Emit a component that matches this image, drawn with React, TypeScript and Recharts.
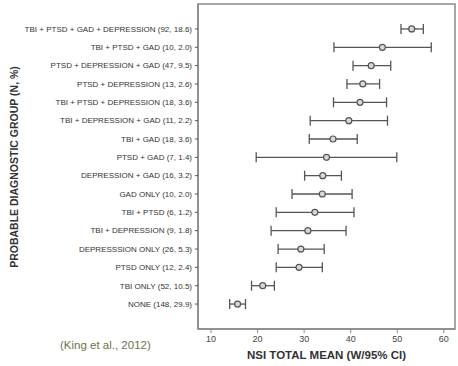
import React from "react";
import { ErrorBar, ReferenceArea, Scatter, ScatterChart, XAxis, YAxis } from "recharts";

const groups = [
  "TBI + PTSD + GAD + DEPRESSION (92, 18.6)",
  "TBI + PTSD + GAD (10, 2.0)",
  "PTSD + DEPRESSION + GAD (47, 9.5)",
  "PTSD + DEPRESSION (13, 2.6)",
  "TBI + PTSD + DEPRESSION (18, 3.6)",
  "TBI + DEPRESSION + GAD (11, 2.2)",
  "TBI + GAD (18, 3.6)",
  "PTSD + GAD (7, 1.4)",
  "DEPRESSION + GAD (16, 3.2)",
  "GAD ONLY (10, 2.0)",
  "TBI + PTSD (6, 1.2)",
  "TBI + DEPRESSION (9, 1.8)",
  "DEPRESSSION ONLY (26, 5.3)",
  "PTSD ONLY (12, 2.4)",
  "TBI ONLY (52, 10.5)",
  "NONE (148, 29.9)",
];
const means = [53.1, 46.8, 44.4, 42.6, 42.0, 39.6, 36.2, 34.8, 34.0, 33.9, 32.3, 30.8, 29.3, 28.9, 21.1, 15.7];
const lower = [50.8, 36.4, 40.5, 39.2, 36.3, 31.3, 31.1, 19.7, 30.1, 27.4, 24.0, 22.9, 24.4, 24.0, 18.7, 14.0];
const upper = [55.6, 57.3, 48.6, 46.2, 47.7, 47.9, 41.4, 49.9, 38.0, 40.3, 40.7, 39.0, 34.3, 33.9, 23.6, 17.4];
const xTicks = [10, 20, 30, 40, 50, 60];

const data = groups.map((g, i) => ({
  idx: i,
  mean: means[i],
  err: [means[i] - lower[i], upper[i] - means[i]],
}));

const X_DOMAIN: [number, number] = [7.2, 62.4];
const Y_DOMAIN: [number, number] = [-1.36, 16.36];
const frame = "#8a8a8a";

const Dot = (props: any) => (
  <circle cx={props.cx} cy={props.cy} r={3} fill="#d8d8d8" stroke="#555" strokeWidth={1.2} />
);

const GroupTick = (props: any) => (
  <text x={props.x - 1} y={props.y} dy="0.35em" textAnchor="end" fontSize={8} fill="#333" style={{ whiteSpace: "pre" }}>
    {groups[props.payload.value] ?? ""}
  </text>
);

const NumTick = (props: any) => (
  <text x={props.x} y={props.y} dy="0.8em" textAnchor="middle" fontSize={9} fill="#444">
    {props.payload.value}
  </text>
);

export default function App() {
  return (
    <div style={{ position: "absolute", left: 0, top: 0, width: 458, height: 366, background: "#fff", fontFamily: "'Liberation Sans', Arial, sans-serif" }}>
      <ScatterChart width={458} height={366} margin={{ top: 4, right: 3, bottom: 7, left: 8 }}>
        <ReferenceArea x1={X_DOMAIN[0]} x2={X_DOMAIN[1]} y1={Y_DOMAIN[0]} y2={Y_DOMAIN[1]} fill="none" stroke={frame} strokeWidth={1.5} />
        <XAxis type="number" dataKey="mean" domain={X_DOMAIN} ticks={xTicks} allowDataOverflow height={30}
          axisLine={{ stroke: frame, strokeWidth: 1.5 }} tickLine={{ stroke: frame }} tickSize={4}
          tick={NumTick} />
        <YAxis type="number" dataKey="idx" domain={Y_DOMAIN} reversed allowDataOverflow width={190}
          ticks={groups.map((_, i) => i)} interval={0}
          axisLine={{ stroke: frame, strokeWidth: 1.5 }} tickLine={{ stroke: "#555" }} tickSize={3}
          tick={GroupTick} />
        <Scatter data={data} isAnimationActive={false} shape={Dot}>
          <ErrorBar dataKey="err" direction="x" width={5} stroke="#555" strokeWidth={1.3} />
        </Scatter>
      </ScatterChart>
      <div style={{ position: "absolute", left: 198, width: 257, top: 349, textAlign: "center", fontSize: 11.5, fontWeight: "bold", color: "#333" }}>
        NSI TOTAL MEAN (W/95% CI)
      </div>
      <div style={{ position: "absolute", left: 14, top: 167, transform: "translate(-50%, -50%) rotate(-90deg)", whiteSpace: "nowrap", fontSize: 10.5, fontWeight: "bold", color: "#333" }}>
        PROBABLE DIAGNOSTIC GROUP (N, %)
      </div>
      <div style={{ position: "absolute", left: 60, top: 339, fontSize: 11.5, color: "#707050", whiteSpace: "nowrap" }}>
        (King et al., 2012)
      </div>
    </div>
  );
}
